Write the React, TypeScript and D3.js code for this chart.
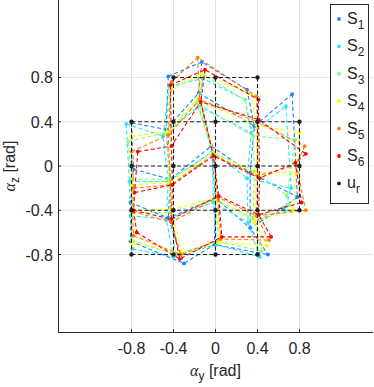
import React, { useEffect, useRef } from 'react';
import * as d3 from 'd3';

// tick values / labels (same for both axes)
const tickVals = [-0.8, -0.4, 0, 0.4, 0.8];
const tickLabels = ['-0.8', '-0.4', '0', '0.4', '0.8'];

// reference grid u_r, nodes row by row (top to bottom, left to right)
const refY = [-0.4, 0, 0.4, -0.8, -0.4, 0, 0.4, 0.8, -0.8, -0.4, 0, 0.4, 0.8, -0.8, -0.4, 0, 0.4, 0.8, -0.8, -0.4, 0, 0.4];
const refZ = [0.8, 0.8, 0.8, 0.4, 0.4, 0.4, 0.4, 0.4, 0, 0, 0, 0, 0, -0.4, -0.4, -0.4, -0.4, -0.4, -0.8, -0.8, -0.8, -0.8];

// measured nodes, same order as the reference
const s1Y = [-0.45, -0.13, 0.30, -0.80, -0.47, -0.16, 0.37, 0.73, -0.78, -0.43, -0.04, 0.33, 0.78, -0.81, -0.45, 0.00, 0.33, 0.64, -0.81, -0.30, -0.01, 0.50];
const s1Z = [0.81, 0.94, 0.69, 0.39, 0.33, 0.66, 0.36, 0.65, -0.03, -0.12, 0.18, -0.06, -0.28, -0.33, -0.47, -0.29, -0.56, -0.38, -0.68, -0.88, -0.71, -0.80];
const s2Y = [-0.44, -0.12, 0.28, -0.85, -0.50, -0.16, 0.34, 0.67, -0.82, -0.45, -0.03, 0.30, 0.72, -0.81, -0.47, -0.02, 0.31, 0.66, -0.79, -0.40, 0.01, 0.42];
const s2Z = [0.72, 0.79, 0.60, 0.38, 0.27, 0.54, 0.30, 0.54, -0.14, -0.14, 0.13, -0.11, -0.20, -0.45, -0.48, -0.33, -0.51, -0.40, -0.75, -0.82, -0.71, -0.82];
const s3Y = [-0.43, -0.11, 0.28, -0.83, -0.47, -0.18, 0.36, 0.76, -0.80, -0.44, -0.02, 0.37, 0.68, -0.80, -0.43, 0.00, 0.36, 0.70, -0.80, -0.38, 0.03, 0.44];
const s3Z = [0.70, 0.82, 0.60, 0.22, 0.30, 0.57, 0.27, 0.24, -0.12, -0.12, 0.12, -0.05, -0.27, -0.42, -0.42, -0.31, -0.47, -0.35, -0.67, -0.80, -0.68, -0.77];
const s4Y = [-0.42, -0.13, 0.34, -0.80, -0.45, -0.17, 0.39, 0.80, -0.79, -0.44, -0.01, 0.39, 0.77, -0.79, -0.42, 0.01, 0.37, 0.74, -0.79, -0.32, 0.04, 0.49];
const s4Z = [0.70, 0.83, 0.65, 0.27, 0.31, 0.60, 0.37, 0.30, -0.17, -0.15, 0.11, -0.06, -0.06, -0.40, -0.39, -0.29, -0.50, -0.40, -0.70, -0.78, -0.69, -0.72];
const s5Y = [-0.42, -0.17, 0.39, -0.80, -0.45, -0.15, 0.40, 0.85, -0.78, -0.43, -0.02, 0.40, 0.77, -0.79, -0.42, 0.02, 0.39, 0.86, -0.78, -0.33, 0.05, 0.51];
const s5Z = [0.76, 0.98, 0.63, 0.13, 0.28, 0.60, 0.40, 0.18, -0.20, -0.17, 0.10, -0.09, 0.01, -0.41, -0.51, -0.28, -0.45, -0.40, -0.63, -0.80, -0.66, -0.67];
const s6Y = [-0.43, -0.10, 0.41, -0.74, -0.42, -0.14, 0.41, 0.86, -0.77, -0.41, -0.02, 0.42, 0.76, -0.78, -0.42, 0.03, 0.41, 0.82, -0.75, -0.34, 0.06, 0.53];
const s6Z = [0.73, 0.87, 0.60, 0.13, 0.18, 0.58, 0.42, 0.11, -0.24, -0.17, 0.09, -0.11, 0.03, -0.40, -0.48, -0.27, -0.44, -0.33, -0.60, -0.84, -0.64, -0.64];

const seriesY = [s1Y, s2Y, s3Y, s4Y, s5Y, s6Y];
const seriesZ = [s1Z, s2Z, s3Z, s4Z, s5Z, s6Z];
const seriesSub = ['1', '2', '3', '4', '5', '6'];
const seriesColors = ['#1a80ff', '#1ee8ff', '#80ff80', '#ffff00', '#ff8000', '#ff0000'];

// mesh connectivity (node indices)
const rows = [[0, 1, 2], [3, 4, 5, 6, 7], [8, 9, 10, 11, 12], [13, 14, 15, 16, 17], [18, 19, 20, 21]];
const cols = [[3, 8, 13, 18], [0, 4, 9, 14, 19], [1, 5, 10, 15, 20], [2, 6, 11, 16, 21], [7, 12, 17]];

const W = 374, H = 387;
const left = 58, right = 373, top = 0, bottom = 332;
const axisColor = '#262626';
const font = 'Liberation Sans, Arial, Helvetica, sans-serif';

export default function App() {
  const ref = useRef<SVGSVGElement>(null);

  useEffect(() => {
    const svg = d3.select(ref.current);
    svg.selectAll('*').remove();

    const x = d3.scaleLinear().domain([-1.5, 1.5]).range([left, right]);
    const y = d3.scaleLinear().domain([-1.5, 1.5]).range([bottom, top]);

    // grid
    const grid = svg.append('g').attr('stroke', '#e3e3e3').attr('stroke-width', 1);
    tickVals.forEach(t => {
      grid.append('line').attr('x1', x(t)).attr('x2', x(t)).attr('y1', top).attr('y2', bottom);
      grid.append('line').attr('x1', left).attr('x2', right).attr('y1', y(t)).attr('y2', y(t));
    });

    const line = d3.line<number>().x(i => 0).y(i => 0);

    const drawMesh = (xs: number[], zs: number[], color: string, r: number) => {
      const g = svg.append('g');
      const path = d3.line<number>().x(i => x(xs[i])).y(i => y(zs[i]));
      [...rows, ...cols].forEach(idx => {
        g.append('path')
          .attr('d', path(idx))
          .attr('fill', 'none')
          .attr('stroke', color)
          .attr('stroke-width', 1.1)
          .attr('stroke-dasharray', '4,2.5');
      });
      g.selectAll('circle')
        .data(xs.map((v, i) => i))
        .enter().append('circle')
        .attr('cx', i => x(xs[i]))
        .attr('cy', i => y(zs[i]))
        .attr('r', r)
        .attr('fill', color);
    };

    seriesY.forEach((s, k) => drawMesh(s, seriesZ[k], seriesColors[k], 1.9));
    drawMesh(refY, refZ, '#1f1f1f', 2.2);

    // axes
    const ax = svg.append('g').attr('stroke', axisColor).attr('stroke-width', 1);
    ax.append('line').attr('x1', left + 0.5).attr('x2', left + 0.5).attr('y1', top).attr('y2', bottom + 0.5);
    ax.append('line').attr('x1', left).attr('x2', right).attr('y1', bottom + 0.5).attr('y2', bottom + 0.5);
    tickVals.forEach(t => {
      ax.append('line').attr('x1', x(t)).attr('x2', x(t)).attr('y1', bottom).attr('y2', bottom - 3);
      ax.append('line').attr('x1', left).attr('x2', left + 3).attr('y1', y(t)).attr('y2', y(t));
    });

    const lab = svg.append('g').attr('font-family', font).attr('font-size', 16).attr('fill', axisColor);
    tickVals.forEach((t, i) => {
      lab.append('text').attr('x', x(t)).attr('y', bottom + 22).attr('text-anchor', 'middle').text(tickLabels[i]);
      lab.append('text').attr('x', left - 5).attr('y', y(t) + 6).attr('text-anchor', 'end').text(tickLabels[i]);
    });

    // axis titles
    const xt = lab.append('text').attr('x', x(0)).attr('y', 376).attr('text-anchor', 'middle');
    xt.append('tspan').attr('font-family', 'Liberation Serif, serif').attr('font-style', 'italic').text('α');
    xt.append('tspan').attr('font-size', 12).attr('dy', 4).text('y');
    xt.append('tspan').attr('dy', -4).text(' [rad]');

    const yt = lab.append('text').attr('transform', `translate(15,${y(0)}) rotate(-90)`).attr('text-anchor', 'middle');
    yt.append('tspan').attr('font-family', 'Liberation Serif, serif').attr('font-style', 'italic').text('α');
    yt.append('tspan').attr('font-size', 12).attr('dy', 4).text('z');
    yt.append('tspan').attr('dy', -4).text(' [rad]');

    // legend
    const lg = svg.append('g');
    lg.append('rect').attr('x', 330.5).attr('y', 4.5).attr('width', 38).attr('height', 199)
      .attr('fill', 'white').attr('stroke', axisColor).attr('stroke-width', 1);
    const entries = [...seriesSub.map((s, i) => ({ main: 'S', sub: s, color: seriesColors[i] })), { main: 'u', sub: 'r', color: '#1f1f1f' }];
    entries.forEach((e, i) => {
      const cy = 19 + i * 27.4;
      lg.append('circle').attr('cx', 339).attr('cy', cy).attr('r', 1.9).attr('fill', e.color);
      const t = lg.append('text').attr('x', 347).attr('y', cy + 5).attr('font-family', font).attr('font-size', 16).attr('fill', axisColor);
      t.append('tspan').text(e.main);
      t.append('tspan').attr('font-size', 12).attr('dy', 5).text(e.sub);
    });
  }, []);

  return (
    <div style={{ position: 'fixed', left: 0, top: 0, background: 'white' }}>
      <svg ref={ref} width={W} height={H} style={{ display: 'block' }} />
    </div>
  );
}
